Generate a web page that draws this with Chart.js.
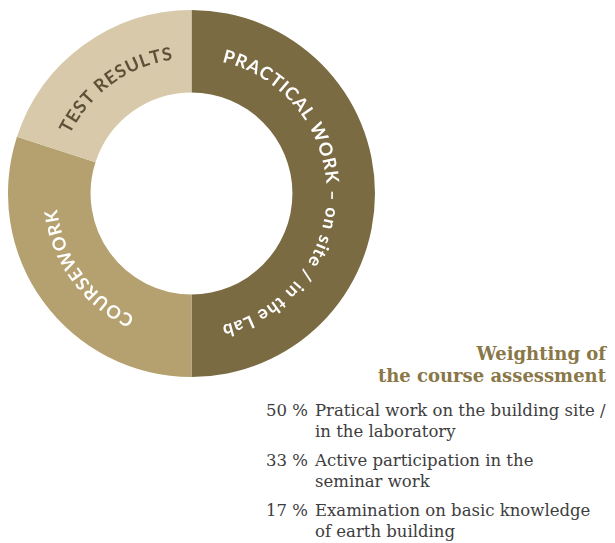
<!DOCTYPE html>
<html>
<head>
<meta charset="utf-8">
<script src="https://cdn.jsdelivr.net/npm/chart.js@4.4.0/dist/chart.umd.min.js"></script>
<style>
  body { margin: 0; background: #fff; width: 615px; height: 543px; position: relative; overflow: hidden; }
  #wrap { position: absolute; left: 8px; top: 10px; width: 367px; height: 367px; }
  .title { position: absolute; right: 9px; top: 343px; text-align: right; font-family: "DejaVu Serif", serif; font-weight: bold; font-size: 18px; line-height: 22px; color: #8a7748; }
  .row { position: absolute; left: 0; font-family: "DejaVu Serif", serif; font-size: 16.5px; line-height: 21px; color: #3d3d3d; }
  .row .pct { position: absolute; left: 222px; width: 86px; text-align: right; }
  .row .txt { position: absolute; left: 315px; width: 310px; white-space: nowrap; }
</style>
</head>
<body>
<div id="wrap"><canvas id="donut"></canvas></div>
<div class="title">Weighting of<br>the course assessment</div>
<div id="list"></div>
<script>
// values (the printed list says 50 / 33 / 17)
var segments = ["PRACTICAL WORK – on site / in the Lab", "COURSEWORK", "TEST RESULTS"];
var values = [50, 30, 20];
var colors = ["#7b6b43", "#b4a16f", "#d7c9aa"];
var labelColors = ["#ffffff", "#ffffff", "#5c5038"];

var listPct = ["50 %", "33 %", "17 %"];
var listText = [
  "Pratical work on the building site /<br>in the laboratory",
  "Active participation in the<br>seminar work",
  "Examination on basic knowledge<br>of earth building"
];

var list = document.getElementById("list");
for (var i = 0; i < listPct.length; i++) {
  var row = document.createElement("div");
  row.className = "row";
  row.style.top = (400 + i * 50) + "px";
  row.innerHTML = '<span class="pct">' + listPct[i] + '</span><span class="txt">' + listText[i] + '</span>';
  list.appendChild(row);
}

// writes each segment's name along the middle of its arc, clockwise, tops outward
var arcText = {
  id: "arcText",
  afterDatasetsDraw: function (chart) {
    var ctx = chart.ctx;
    var meta = chart.getDatasetMeta(0);
    ctx.save();
    ctx.font = "bold 18px Lato";
    ctx.textAlign = "center";
    ctx.textBaseline = "alphabetic";
    var spacing = 1.0;
    meta.data.forEach(function (arc, idx) {
      var p = arc.getProps(["x", "y", "startAngle", "endAngle", "innerRadius", "outerRadius"], true);
      var r = (p.innerRadius + p.outerRadius) / 2 - 7;
      var text = segments[idx];
      var widths = [];
      var total = 0;
      for (var k = 0; k < text.length; k++) {
        var w = ctx.measureText(text[k]).width + spacing;
        widths.push(w);
        total += w;
      }
      var mid = (p.startAngle + p.endAngle) / 2;
      var a = mid - total / r / 2;
      ctx.fillStyle = labelColors[idx];
      for (var k = 0; k < text.length; k++) {
        var half = widths[k] / 2 / r;
        a += half;
        ctx.save();
        ctx.translate(p.x + r * Math.cos(a), p.y + r * Math.sin(a));
        ctx.rotate(a + Math.PI / 2);
        ctx.fillText(text[k], 0, 0);
        ctx.restore();
        a += half;
      }
    });
    ctx.restore();
  }
};

new Chart(document.getElementById("donut"), {
  type: "doughnut",
  data: {
    labels: segments,
    datasets: [{
      data: values,
      backgroundColor: colors,
      borderWidth: 0
    }]
  },
  options: {
    responsive: true,
    maintainAspectRatio: false,
    animation: false,
    cutout: "55%",
    layout: { padding: 0 },
    plugins: {
      legend: { display: false },
      tooltip: { enabled: false }
    }
  },
  plugins: [arcText]
});
</script>
</body>
</html>
